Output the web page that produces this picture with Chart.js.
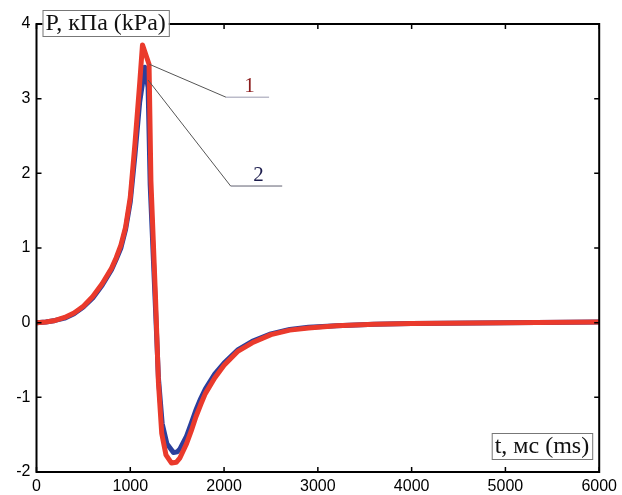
<!DOCTYPE html>
<html>
<head>
<meta charset="utf-8">
<script src="https://cdn.jsdelivr.net/npm/chart.js@4"></script>
<style>
  html, body { margin: 0; padding: 0; background: #fff; }
  #wrap { width: 622px; height: 495px; }
</style>
</head>
<body>
<div id="wrap"><canvas id="pChart" width="622" height="495"></canvas></div>
<script>
// curve 1 (red)
const t1 = [0, 100, 200, 300, 400, 500, 600, 700, 800, 850, 900, 950, 1000, 1050, 1100, 1130, 1200, 1220, 1270, 1300, 1335, 1380, 1440, 1490, 1530, 1600, 1650, 1700, 1750, 1800, 1900, 2000, 2150, 2300, 2500, 2700, 2900, 3200, 3600, 4000, 5000, 6000];
const p1 = [0, 0.01, 0.03, 0.07, 0.13, 0.22, 0.35, 0.52, 0.73, 0.87, 1.04, 1.28, 1.68, 2.4, 3.2, 3.72, 3.46, 1.9, 0.3, -0.8, -1.48, -1.77, -1.88, -1.87, -1.81, -1.62, -1.45, -1.26, -1.1, -0.95, -0.74, -0.57, -0.38, -0.27, -0.16, -0.1, -0.07, -0.04, -0.02, -0.01, 0, 0.01];

// curve 2 (blue)
const t2 = [0, 100, 200, 300, 400, 500, 600, 700, 800, 850, 900, 950, 1000, 1050, 1100, 1155, 1190, 1212, 1265, 1300, 1340, 1390, 1460, 1500, 1530, 1600, 1650, 1700, 1750, 1800, 1900, 2000, 2150, 2300, 2500, 2700, 2900, 3200, 3600, 4000, 5000, 6000];
const p2 = [0, 0.01, 0.03, 0.06, 0.12, 0.21, 0.33, 0.5, 0.71, 0.85, 1.0, 1.25, 1.62, 2.25, 2.95, 3.42, 3.15, 1.85, 0.3, -0.74, -1.35, -1.62, -1.74, -1.73, -1.69, -1.52, -1.35, -1.17, -1.02, -0.89, -0.69, -0.54, -0.36, -0.25, -0.15, -0.09, -0.06, -0.04, -0.02, -0.01, 0, 0.01];

const xTicks = [0, 1000, 2000, 3000, 4000, 5000, 6000];
const yTicks = [-2, -1, 0, 1, 2, 3, 4];

// leader lines to the curve labels (data coordinates)
const leaders = [
  { from: [1205, 3.46], elbow: [2020, 3.02], to: [2480, 3.02], text: "1", color: "#8b1c1c", lineCol: "#9a9ab0" },
  { from: [1190, 3.25], elbow: [2070, 1.83], to: [2620, 1.83], text: "2", color: "#1c1c4c", lineCol: "#606070" }
];

const yTitle = "P, кПа (kPa)";
const xTitle = "t, мс (ms)";

function toPoints(ts, ps) {
  return ts.map((t, i) => ({ x: t, y: ps[i] }));
}

const framePlugin = {
  id: "frame",
  afterDraw(chart) {
    const ctx = chart.ctx;
    const a = chart.chartArea;
    const sx = chart.scales.x, sy = chart.scales.y;
    ctx.save();

    // leader lines
    leaders.forEach(l => {
      const x0 = sx.getPixelForValue(l.from[0]), y0 = sy.getPixelForValue(l.from[1]);
      const x1 = sx.getPixelForValue(l.elbow[0]), y1 = sy.getPixelForValue(l.elbow[1]);
      const x2 = sx.getPixelForValue(l.to[0]);
      ctx.strokeStyle = "#555";
      ctx.lineWidth = 1;
      ctx.beginPath();
      ctx.moveTo(x0, y0);
      ctx.lineTo(x1, y1);
      ctx.stroke();
      ctx.strokeStyle = l.lineCol;
      ctx.beginPath();
      ctx.moveTo(x1, y1);
      ctx.lineTo(x2, y1);
      ctx.stroke();
      ctx.fillStyle = l.color;
      ctx.font = "21px 'Liberation Serif'";
      ctx.textAlign = "center";
      ctx.textBaseline = "alphabetic";
      ctx.fillText(l.text, (x1 + x2) / 2 + 2, y1 - 5);
    });

    // frame
    ctx.strokeStyle = "#000";
    ctx.lineWidth = 2;
    ctx.beginPath();
    ctx.rect(a.left, a.top, a.right - a.left, a.bottom - a.top);
    ctx.stroke();

    // inward ticks
    ctx.lineWidth = 1.5;
    const tl = 5;
    ctx.beginPath();
    xTicks.forEach(v => {
      const x = sx.getPixelForValue(v);
      ctx.moveTo(x, a.bottom); ctx.lineTo(x, a.bottom - tl);
      ctx.moveTo(x, a.top); ctx.lineTo(x, a.top + tl);
    });
    yTicks.forEach(v => {
      const y = sy.getPixelForValue(v);
      ctx.moveTo(a.left, y); ctx.lineTo(a.left + tl, y);
      ctx.moveTo(a.right, y); ctx.lineTo(a.right - tl, y);
    });
    ctx.stroke();

    // axis title boxes
    ctx.font = "24px 'Liberation Serif'";
    ctx.textBaseline = "middle";
    ctx.textAlign = "left";
    const boxes = [
      { text: yTitle, x: a.left + 6, y: a.top - 14, h: 26 },
      { text: xTitle, right: a.right - 7, y: a.bottom - 39, h: 26 }
    ];
    boxes.forEach(b => {
      const w = ctx.measureText(b.text).width + 6;
      const bx = b.x !== undefined ? b.x : b.right - w;
      ctx.fillStyle = "#fff";
      ctx.fillRect(bx, b.y, w, b.h);
      ctx.strokeStyle = "#777";
      ctx.lineWidth = 1;
      ctx.strokeRect(bx + 0.5, b.y + 0.5, w, b.h);
      ctx.fillStyle = "#111";
      ctx.fillText(b.text, bx + 3, b.y + b.h / 2 + 1);
    });
    ctx.restore();
  }
};

const ctx = document.getElementById("pChart").getContext("2d");

new Chart(ctx, {
  type: "line",
  data: {
    datasets: [
      {
        label: "1",
        data: toPoints(t1, p1),
        borderColor: "#ea3a2c",
        borderWidth: 5,
        borderJoinStyle: "round",
        pointRadius: 0,
        tension: 0,
        fill: false
      },
      {
        label: "2",
        data: toPoints(t2, p2),
        borderColor: "#2b3f9c",
        borderWidth: 5,
        borderJoinStyle: "round",
        pointRadius: 0,
        tension: 0,
        fill: false
      }
    ]
  },
  options: {
    responsive: false,
    animation: false,
    layout: { padding: { top: 24, right: 18, left: 0, bottom: 0 } },
    plugins: {
      legend: { display: false },
      tooltip: { enabled: false }
    },
    scales: {
      x: {
        type: "linear",
        min: 0,
        max: 6000,
        afterBuildTicks: s => { s.ticks = xTicks.map(v => ({ value: v })); },
        afterFit: s => { s.height = 23; },
        grid: { display: false, drawTicks: false, tickLength: 0 },
        border: { display: false },
        ticks: {
          padding: 5,
          color: "#000",
          callback: v => String(v),
          font: { family: "'Liberation Sans'", size: 16 }
        }
      },
      y: {
        min: -2,
        max: 4,
        afterBuildTicks: s => { s.ticks = yTicks.map(v => ({ value: v })); },
        afterFit: s => { s.width = 36.5; },
        grid: { display: false, drawTicks: false, tickLength: 0 },
        border: { display: false },
        ticks: {
          padding: 6,
          color: "#000",
          callback: v => String(v),
          font: { family: "'Liberation Sans'", size: 16 }
        }
      }
    }
  },
  plugins: [framePlugin]
});
</script>
</body>
</html>
